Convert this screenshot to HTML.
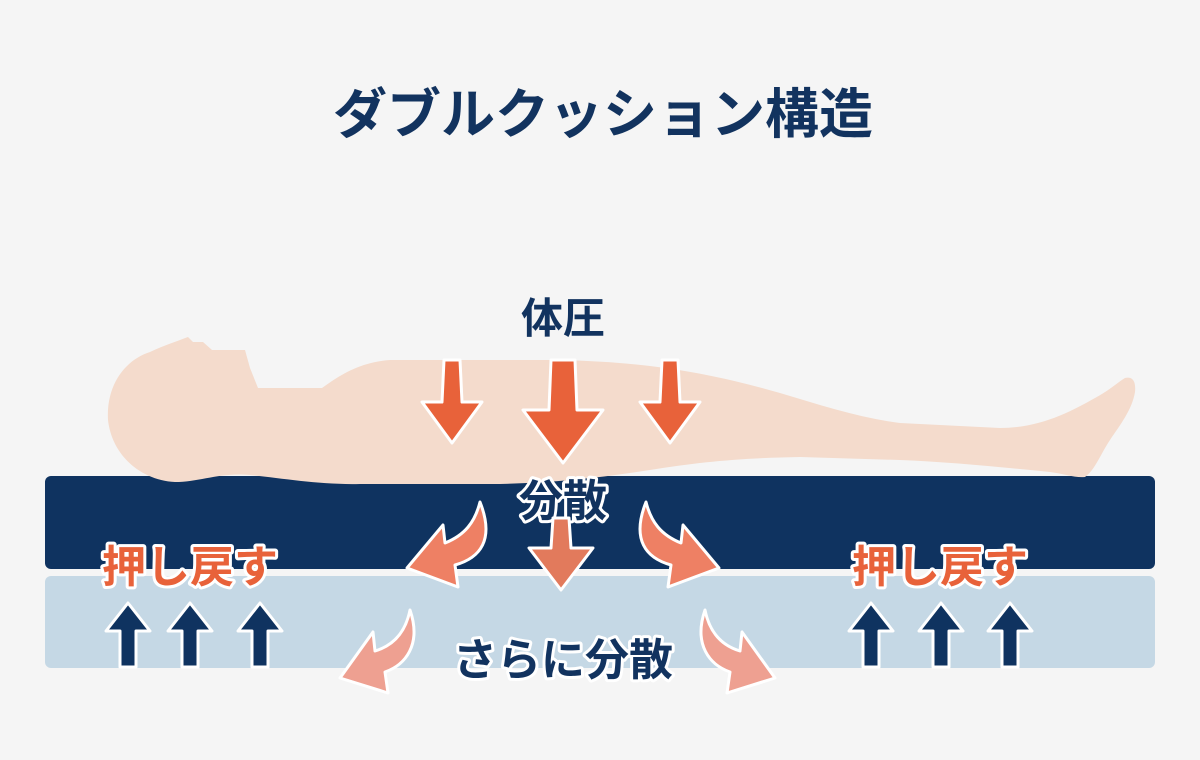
<!DOCTYPE html>
<html><head><meta charset="utf-8"><style>
html,body{margin:0;padding:0;background:#f5f5f5;}
svg{display:block;}
text{font-family:"Liberation Sans","Noto Sans CJK JP",sans-serif;font-weight:bold;}
</style></head><body>
<svg width="1200" height="760" viewBox="0 0 1200 760" xmlns="http://www.w3.org/2000/svg">
<defs>
<path id="ua" d="M0,0 L22,28 L8,28 L8,64 L-8,64 L-8,28 L-22,28 Z"/>
</defs>
<rect width="1200" height="760" fill="#f5f5f5"/>
<text x="603" y="133" font-size="54" fill="#12335f" text-anchor="middle">ダブルクッション構造</text>

<rect x="45" y="576" width="1110" height="92" rx="6" fill="#c5d8e5"/>
<rect x="45" y="476" width="1110" height="93" rx="6" fill="#0f3360"/>

<!-- body -->
<path fill="#f4dbcc" d="M150,352 C165,345 175,342 188,337 L193,342 L203,342 L212,350 L245,350 L250,368 L258,388 L322,388 C340,375 360,362 390,360 L560,360 C640,362 700,370 780,393 C820,405 860,418 900,423 L1000,428 C1040,428 1070,412 1095,398 C1110,390 1118,382 1125,378 C1133,376 1136,382 1135,392 C1132,410 1120,425 1110,440 C1100,455 1095,470 1085,477 C1075,478 1065,474 1050,472 C1000,467 950,462 900,460 L800,457 C740,458 700,462 650,470 C600,478 550,483 500,484 L360,484 C320,485 280,478 250,475 C220,472 200,482 175,482 C140,480 112,455 108,420 C106,385 125,360 150,352 Z"/>

<text x="563" y="333" font-size="42" fill="#12335f" text-anchor="middle">体圧</text>

<!-- down arrows -->
<g fill="#e8623a" stroke="#fff" stroke-width="3" stroke-linejoin="round">
<path d="M444,360 L460,360 L462,402 L482,402 L452,443 L422,402 L442,402 Z"/>
<path d="M551,360 L575,360 L577,410 L603,410 L563,463 L523,410 L549,410 Z"/>
<path d="M662,360 L678,360 L680,402 L700,402 L670,443 L640,402 L660,402 Z"/>
</g>

<text x="563" y="516" font-size="44" fill="#12335f" stroke="#fff" stroke-width="6" paint-order="stroke" stroke-linejoin="round" text-anchor="middle">分散</text>

<!-- mid arrow -->
<path fill="#e27a5c" stroke="#fff" stroke-width="3" stroke-linejoin="round" d="M553,518 L569,518 L571,548 L593,548 L561,590 L529,548 L551,548 Z"/>

<!-- curved arrows upper -->
<g fill="#ee8064" stroke="#fff" stroke-width="3" stroke-linejoin="round">
<path d="M480,502 C495,540 480,558 455,565 L458,587 L407,568 L443,525 L445,543 C465,535 475,522 480,502 Z"/>
<path d="M646,502 C631,540 646,558 671,565 L668,587 L719,568 L683,525 L681,543 C661,535 651,522 646,502 Z"/>
</g>
<g fill="#eea091" stroke="#fff" stroke-width="3" stroke-linejoin="round">
<path d="M410,610 C422,645 405,665 385,672 L388,693 L340,678 L373,632 L375,651 C395,645 406,630 410,610 Z"/>
<path d="M705,610 C693,645 710,665 730,672 L727,693 L775,678 L742,632 L740,651 C720,645 709,630 705,610 Z"/>
</g>

<text x="563" y="675" font-size="44" fill="#12335f" stroke="#fff" stroke-width="6" paint-order="stroke" stroke-linejoin="round" text-anchor="middle">さらに分散</text>

<g font-size="44" fill="#e8623a" stroke="#fff" stroke-width="6" paint-order="stroke" stroke-linejoin="round" text-anchor="middle">
<text x="190" y="582">押し戻す</text>
<text x="940" y="582">押し戻す</text>
</g>

<!-- up arrows -->
<g fill="#0f3360" stroke="#fff" stroke-width="3" stroke-linejoin="round">
<use href="#ua" x="128" y="603"/>
<use href="#ua" x="190" y="603"/>
<use href="#ua" x="260" y="603"/>
<use href="#ua" x="871" y="603"/>
<use href="#ua" x="941" y="603"/>
<use href="#ua" x="1010" y="603"/>
</g>
</svg>
</body></html>
